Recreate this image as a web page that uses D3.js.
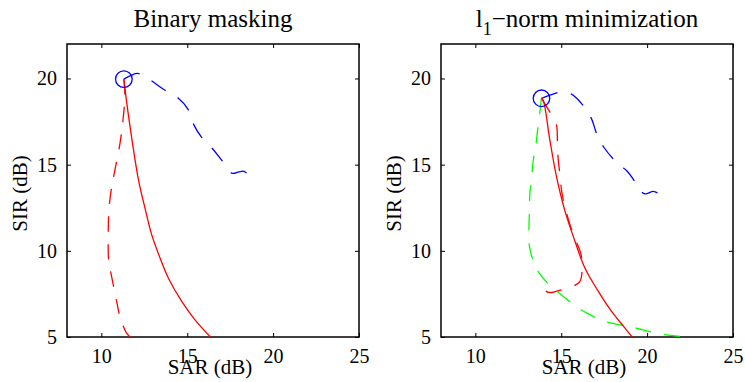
<!DOCTYPE html>
<html>
<head>
<meta charset="utf-8">
<script src="https://cdn.jsdelivr.net/npm/d3@7"></script>
<style>
  body { margin:0; background:#fff; }
  svg { display:block; font-family:"Liberation Serif","Times New Roman",serif; }
</style>
</head>
<body>
<svg id="chart" width="745" height="382"></svg>
<script>
// ---- data (SAR, SIR in dB) ----
const xTicks = [10, 15, 20, 25];
const yTicks = [5, 10, 15, 20];

// Binary masking
const bmOptimum = [11.31, 19.96];
const bmBlue = [[11.31,19.96],[12.11,20.29],[12.5,20.1],[12.87,19.9],[13.64,19.36],[14.47,18.87],[15.05,18.21],
  [15.4,17.28],[15.83,16.6],[16.51,15.88],[17.05,15.2],[17.61,14.5],[18.0,14.58],[18.25,14.62],[18.45,14.52]];
const bmRedSolid = [[11.31,19.96],[11.45,18.8],[11.7,17.0],[12.17,14.07],[12.53,12.52],[12.92,10.97],
  [13.41,9.6],[13.89,8.44],[14.67,7.08],[15.44,6.01],[16.41,4.94]];
const bmRedDash = [[11.31,19.96],[11.37,19.0],[11.25,17.5],[11.08,16.2],[10.79,14.7],[10.6,13.7],[10.45,12.5],
  [10.4,11.0],[10.42,9.5],[10.5,9.0],[10.89,7.08],[11.08,6.2],[11.47,5.23],[11.76,4.94]];

// l1-norm minimization
const l1Optimum = [13.85, 18.85];
const l1Blue = [[13.85,18.85],[14.34,19.03],[14.73,19.16],[15.15,19.24],[15.6,19.09],[16.22,18.5],[16.76,17.67],
  [17.05,16.83],[17.5,15.98],[18.08,15.28],[18.5,14.9],[18.8,14.66],[19.28,14.03],[19.6,13.5],[19.88,13.3],
  [20.36,13.45],[20.6,13.36]];
const l1RedSolid = [[13.85,18.85],[13.95,18.74],[14.34,16.41],[14.73,14.27],[15.21,12.33],[15.79,10.58],
  [16.37,9.02],[17.15,7.66],[17.92,6.5],[18.7,5.53],[19.18,4.94]];
const l1RedDash = [[13.85,18.85],[14.28,18.15],[14.6,17.6],[14.73,17.28],[14.78,16.31],[14.82,15.34],[14.92,14.47],
  [15.02,13.49],[15.17,12.72],[15.5,11.55],[15.85,10.6],[16.15,9.8],[16.22,9.0],[16.08,8.21],[15.7,7.95],
  [15.31,7.82],[14.8,7.68],[14.34,7.57],[14.1,7.66]];
const l1Green = [[13.85,18.85],[13.81,18.54],[13.75,17.96],[13.62,16.99],[13.52,16.11],[13.37,15.24],[13.27,14.17],
  [13.17,13.3],[13.15,12.33],[13.12,11.35],[13.12,10.48],[13.31,9.6],[13.7,8.73],[14.28,8.05],[14.98,7.47],
  [15.79,6.83],[16.47,6.4],[17.38,5.96],[18.12,5.76],[19.3,5.53],[20.07,5.33],[21.04,5.14],[21.91,5.04]];

const panels = [
  {left:67, title:'Binary masking', sub:false, opt:bmOptimum,
   series:[{d:bmBlue,c:'#0000ff',dash:true},{d:bmRedDash,c:'#ff0000',dash:true},{d:bmRedSolid,c:'#ff0000',dash:false}]},
  {left:441, title:'l', sub:true, opt:l1Optimum,
   series:[{d:l1Blue,c:'#0000ff',dash:true},{d:l1Green,c:'#00ff00',dash:true},{d:l1RedDash,c:'#ff0000',dash:true},{d:l1RedSolid,c:'#ff0000',dash:false}]}
];

const svg = d3.select('#chart');
const W = 292, H = 293, marginTop = 44;
const DASH = 16, GAP = 13;

panels.forEach((p, i) => {
  const g = svg.append('g').attr('transform', `translate(${p.left},${marginTop})`);
  const x = d3.scaleLinear().domain([8, 25]).range([0, W]);
  const y = d3.scaleLinear().domain([5, 22]).range([H, 0]);

  g.append('clipPath').attr('id', 'clip' + i)
    .append('rect').attr('width', W).attr('height', H);

  // axes, MATLAB box style with inward ticks
  const ax = [
    g.append('g').attr('transform', `translate(0,${H})`).call(d3.axisBottom(x).tickValues(xTicks).tickSizeInner(-4).tickSizeOuter(0)),
    g.append('g').call(d3.axisTop(x).tickValues(xTicks).tickSizeInner(-4).tickSizeOuter(0).tickFormat('')),
    g.append('g').call(d3.axisLeft(y).tickValues(yTicks).tickSizeInner(-4).tickSizeOuter(0).tickPadding(10)),
    g.append('g').attr('transform', `translate(${W},0)`).call(d3.axisRight(y).tickValues(yTicks).tickSizeInner(-4).tickSizeOuter(0).tickFormat(''))
  ];
  ax.forEach(a => {
    a.select('.domain').remove();
    a.selectAll('line').attr('stroke', '#000').attr('stroke-width', 1);
    a.selectAll('text').attr('font-family', '"Liberation Serif","Times New Roman",serif')
      .attr('font-size', 20).attr('fill', '#000');
  });
  ax[0].selectAll('text').attr('dy', null).attr('y', 26);

  g.append('rect').attr('width', W).attr('height', H)
    .attr('fill', 'none').attr('stroke', '#000').attr('stroke-width', 1.5);

  const line = d3.line().x(d => x(d[0])).y(d => y(d[1])).curve(d3.curveCatmullRom.alpha(0.5));
  const lines = g.append('g').attr('clip-path', `url(#clip${i})`);
  p.series.forEach(s => {
    const path = lines.append('path').datum(s.d)
      .attr('fill', 'none').attr('stroke', s.c).attr('stroke-width', 1.3)
      .attr('d', line);
    if (s.dash) {
      // stretch the pattern a little so the line starts and ends on a dash
      const L = path.node().getTotalLength();
      const n = Math.max(1, Math.round((L - DASH) / (DASH + GAP)));
      const k = (L / (n * (DASH + GAP) + DASH));
      path.attr('stroke-dasharray', `${DASH * k},${GAP * k}`);
    }
  });
  g.append('circle').attr('cx', x(p.opt[0])).attr('cy', y(p.opt[1])).attr('r', 8.3)
    .attr('fill', 'none').attr('stroke', '#0000ff').attr('stroke-width', 1.3);

  // labels
  const title = g.append('text').attr('x', W / 2).attr('y', -17)
    .attr('text-anchor', 'middle').attr('font-size', 25).attr('fill', '#000');
  if (p.sub) {
    title.append('tspan').text('l');
    title.append('tspan').attr('font-size', 18).attr('dy', 8).text('1');
    title.append('tspan').attr('dy', -8).text('\u2212norm minimization');
  } else {
    title.text(p.title);
  }
  g.append('text').attr('x', W / 2 - 3).attr('y', H + 37)
    .attr('text-anchor', 'middle').attr('font-size', 21).attr('fill', '#000').text('SAR (dB)');
  g.append('text').attr('transform', `translate(-40,${H / 2 + 3}) rotate(-90)`)
    .attr('text-anchor', 'middle').attr('font-size', 21).attr('fill', '#000').text('SIR (dB)');
});
</script>
</body>
</html>
